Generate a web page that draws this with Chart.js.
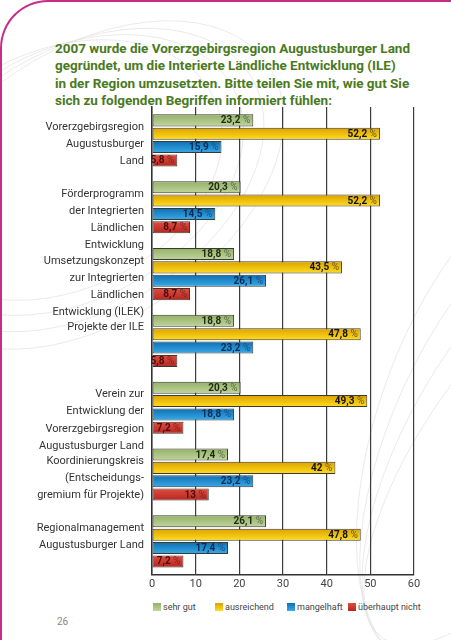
<!DOCTYPE html>
<html>
<head>
<meta charset="utf-8">
<script src="https://cdn.jsdelivr.net/npm/chart.js@4.4.0/dist/chart.umd.min.js"></script>
<style>
  html, body { margin:0; padding:0; background:#fff; }
  body { width:451px; height:640px; position:relative; overflow:hidden; font-family: Roboto, "DejaVu Sans", sans-serif; }
  #bg { position:absolute; left:0; top:0; width:451px; height:640px; }
  #frame { position:absolute; left:0; top:0; width:460px; height:660px; box-sizing:border-box;
           border-top:2px solid #c62d86; border-left:2px solid #c62d86; border-top-left-radius:48px; }
  #title { position:absolute; left:55px; top:40px; width:390px; font-weight:bold; font-size:13.5px; line-height:17.4px;
           color:#4a7a1e; white-space:nowrap; }
  #wrap { position:absolute; left:0; top:100px; width:451px; height:495px; }
  #legend { position:absolute; left:153px; top:602px; height:12px; font-size:9px; color:#444; white-space:nowrap; }
  #legend .it { position:absolute; top:0; display:flex; align-items:center; }
  #legend .bx { width:8px; height:8px; margin-right:2px; }
  #page { position:absolute; left:57px; top:616px; font-size:10px; color:#888; }
</style>
</head>
<body>
<svg id="bg" viewBox="0 0 451 640" fill="none" stroke="#e4e4e4" stroke-width="0.7">
  <ellipse cx="60" cy="170" rx="170" ry="120" transform="rotate(-25 60 170)"/>
  <ellipse cx="70" cy="175" rx="185" ry="125" transform="rotate(-28 70 175)"/>
  <ellipse cx="80" cy="180" rx="200" ry="130" transform="rotate(-31 80 180)"/>
  <ellipse cx="90" cy="185" rx="215" ry="135" transform="rotate(-34 90 185)"/>
  <ellipse cx="500" cy="420" rx="120" ry="260" transform="rotate(20 500 420)"/>
  <ellipse cx="505" cy="430" rx="110" ry="250" transform="rotate(25 505 430)"/>
  <ellipse cx="510" cy="440" rx="100" ry="240" transform="rotate(30 510 440)"/>
  <ellipse cx="515" cy="450" rx="90" ry="230" transform="rotate(35 515 450)"/>
</svg>
<div id="frame"></div>
<div id="title">2007 wurde die Vorerzgebirgsregion Augustusburger Land<br>gegründet, um die Interierte Ländliche Entwicklung (ILE)<br>in der Region umzusetzten. Bitte teilen Sie mit, wie gut Sie<br>sich zu folgenden Begriffen informiert fühlen:</div>
<div id="wrap"><canvas id="c"></canvas></div>
<div id="legend"></div>
<div id="page">26</div>
<script>
// ---- data ----
const categories = [
  ["Vorerzgebirgsregion", "Augustusburger", "Land"],
  ["Förderprogramm", "der Integrierten", "Ländlichen", "Entwicklung"],
  ["Umsetzungskonzept", "zur Integrierten", "Ländlichen", "Entwicklung (ILEK)"],
  ["Projekte der ILE"],
  ["Verein zur", "Entwicklung der", "Vorerzgebirgsregion", "Augustusburger Land"],
  ["Koordinierungskreis", "(Entscheidungs-", "gremium für Projekte)"],
  ["Regionalmanagement", "Augustusburger Land"]
];
const seriesNames = ["sehr gut", "ausreichend", "mangelhaft", "überhaupt nicht"];
const sehrGut        = [23.2, 20.3, 18.8, 18.8, 20.3, 17.4, 26.1];
const ausreichend    = [52.2, 52.2, 43.5, 47.8, 49.3, 42,   47.8];
const mangelhaft     = [15.9, 14.5, 26.1, 23.2, 18.8, 23.2, 17.4];
const ueberhauptNicht= [5.8,  8.7,  8.7,  5.8,  7.2,  13,   7.2];
const xTicks = [0, 10, 20, 30, 40, 50, 60];

// ---- styling ----
const CAT = 0.8, BAR = 0.9;
const FONT = 'Roboto, "DejaVu Sans", sans-serif';
const styles = [
  { top:'#93b066', bot:'#c0d69e', solid:'#a9c27f', num:'#1f2a12', pct:'#5c6b50' },
  { top:'#dca100', bot:'#ffdd1f', solid:'#f2c400', num:'#111111', pct:'#6a5818' },
  { top:'#0d6fb3', bot:'#3aaae8', solid:'#1e8fd2', num:'#0a2c55', pct:'#16508c' },
  { top:'#e14c40', bot:'#b32820', solid:'#cc3a30', num:'#4e0a0a', pct:'#7c2620' }
];
const seriesValues = [sehrGut, ausreichend, mangelhaft, ueberhauptNicht];
const legendLeft = [0, 62, 134, 195];

function gradFor(d) {
  const s = styles[d];
  return (ctx) => {
    const chart = ctx.chart, ys = chart.scales && chart.scales.y;
    if (ctx.type !== 'data' || !ys || !isFinite(ys.getPixelForValue(0))) return s.solid;
    const band = Math.abs(ys.getPixelForValue(1) - ys.getPixelForValue(0));
    const slot = band * CAT / 4, h = slot * BAR;
    const yc = ys.getPixelForValue(ctx.dataIndex) + (d - 1.5) * slot;
    const g = chart.ctx.createLinearGradient(0, yc - h/2, 0, yc + h/2);
    g.addColorStop(0, s.top);
    g.addColorStop(1, s.bot);
    return g;
  };
}

const paddedLabels = categories.map(l => l.concat(Array(4 - l.length).fill('')));

const valueLabels = {
  id: 'valueLabels',
  afterDatasetsDraw(chart) {
    const ctx = chart.ctx;
    ctx.save();
    ctx.textBaseline = 'middle';
    ctx.textAlign = 'left';
    chart.data.datasets.forEach((ds, d) => {
      const meta = chart.getDatasetMeta(d);
      meta.data.forEach((bar, i) => {
        const v = ds.data[i];
        const num = String(v).replace('.', ',');
        ctx.font = 'bold 10px ' + FONT;
        const wNum = ctx.measureText(num).width;
        ctx.font = '10px ' + FONT;
        const wPct = ctx.measureText(' %').width;
        const x0 = bar.x - 3 - wPct - wNum;
        ctx.font = 'bold 10px ' + FONT;
        ctx.fillStyle = styles[d].num;
        ctx.fillText(num, x0, bar.y + 0.5);
        ctx.font = '10px ' + FONT;
        ctx.fillStyle = styles[d].pct;
        ctx.fillText(' %', x0 + wNum, bar.y + 0.5);
      });
    });
    ctx.restore();
  }
};

new Chart(document.getElementById('c'), {
  type: 'bar',
  data: {
    labels: paddedLabels,
    datasets: seriesValues.map((vals, d) => ({
      label: seriesNames[d],
      data: vals,
      backgroundColor: gradFor(d),
      borderColor: '#3a3a30',
      borderWidth: 1,
      borderSkipped: false,
      categoryPercentage: CAT,
      barPercentage: BAR
    }))
  },
  options: {
    indexAxis: 'y',
    responsive: true,
    maintainAspectRatio: false,
    animation: false,
    layout: { padding: { left: 0, right: 37, top: 7, bottom: 1 } },
    scales: {
      x: {
        min: 0, max: 60,
        afterBuildTicks: (s) => { s.ticks = xTicks.map(v => ({ value: v })); },
        grid: { color: '#3c3c3c', lineWidth: 1.2, drawTicks: false },
        border: { display: true, color: '#333', width: 1.5 },
        ticks: { padding: 3, color: '#444', font: { family: FONT, size: 11 } }
      },
      y: {
        afterFit: (s) => { s.width = 152; s.paddingTop = 0; s.paddingBottom = 0; },
        grid: { display: false, drawTicks: false },
        border: { display: true, color: '#333', width: 1.5 },
        ticks: { autoSkip: false, padding: 8, labelOffset: 12.5, color: '#333',
                 font: { family: FONT, size: 11, lineHeight: 1.56 } }
      }
    },
    plugins: {
      legend: { display: false },
      tooltip: { enabled: false }
    }
  },
  plugins: [valueLabels]
});

// HTML legend built from the series names
const lg = document.getElementById('legend');
seriesNames.forEach((name, d) => {
  const it = document.createElement('div');
  it.className = 'it';
  it.style.left = legendLeft[d] + 'px';
  const bx = document.createElement('span');
  bx.className = 'bx';
  bx.style.background = 'linear-gradient(' + styles[d].top + ',' + styles[d].bot + ')';
  const tx = document.createElement('span');
  tx.textContent = name;
  it.appendChild(bx); it.appendChild(tx);
  lg.appendChild(it);
});
</script>
</body>
</html>
